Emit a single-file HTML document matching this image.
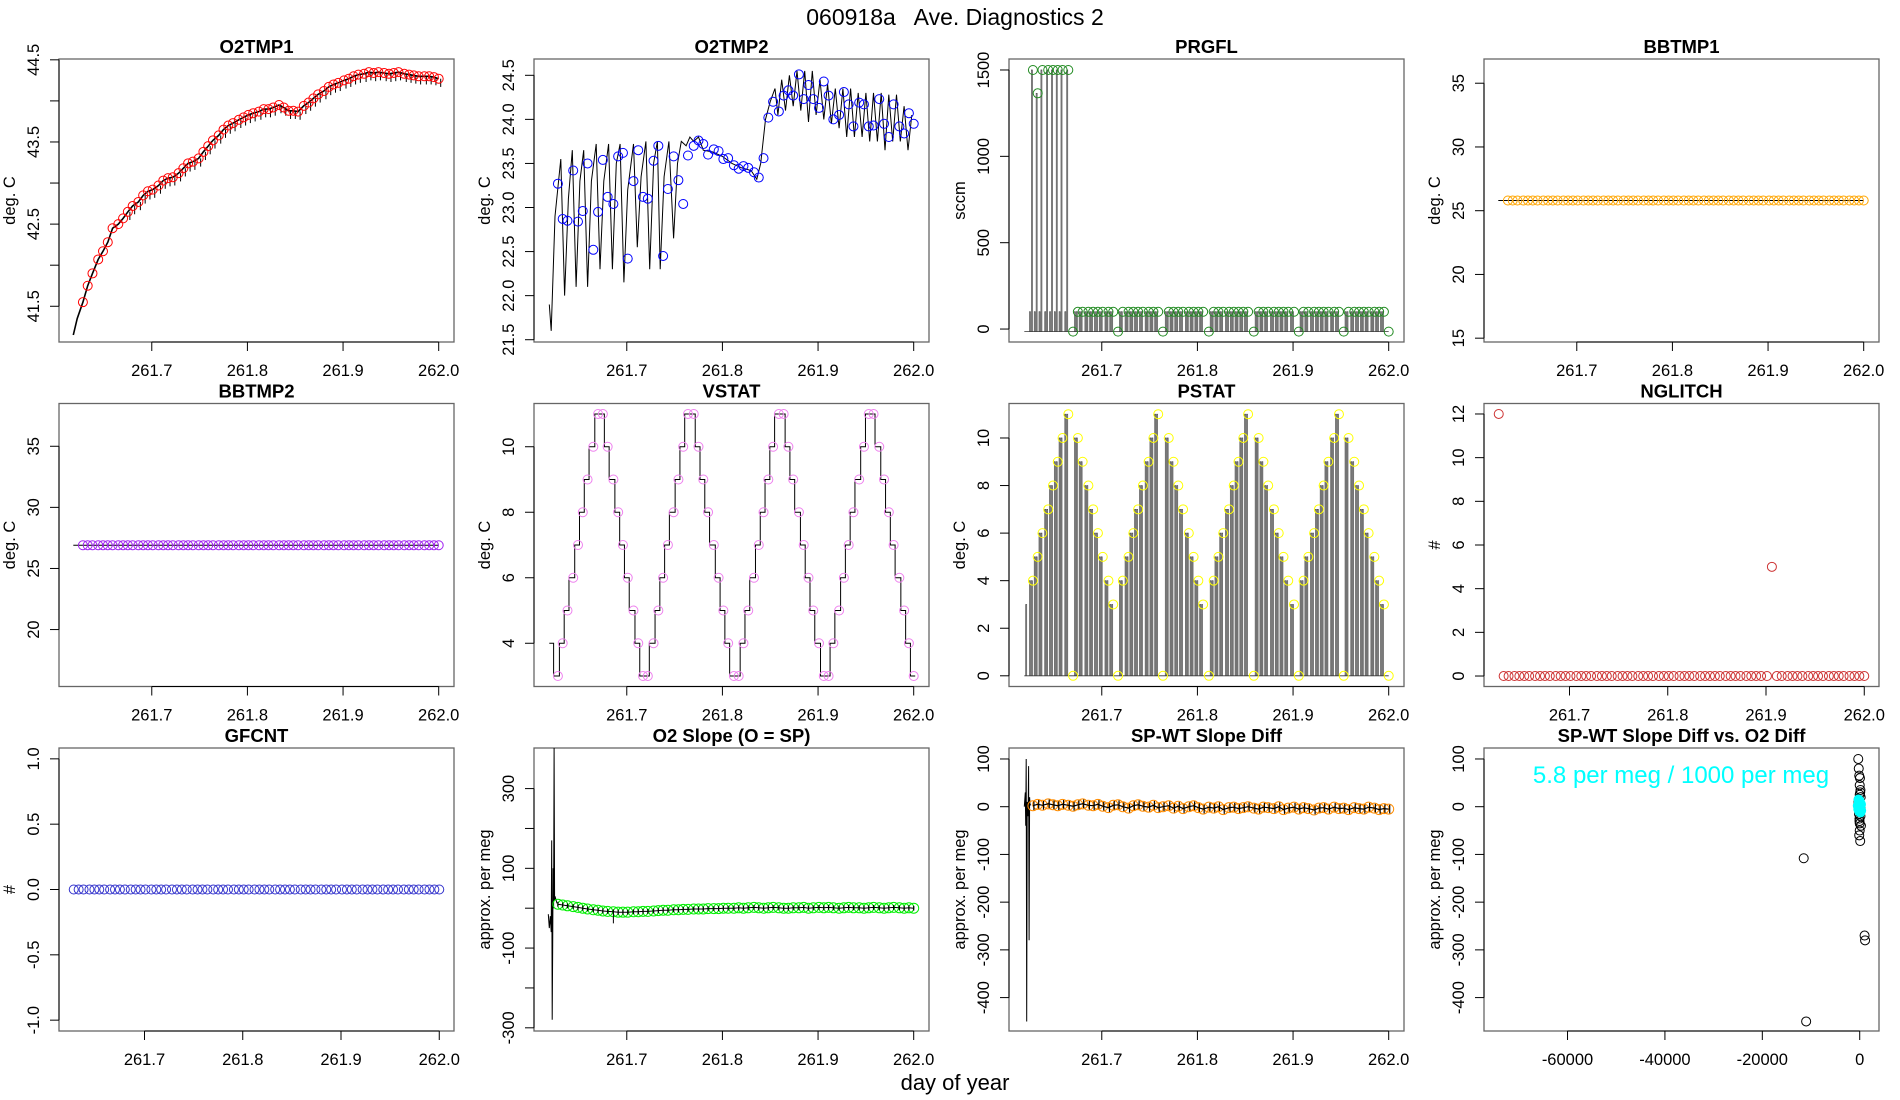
<!DOCTYPE html>
<html><head><meta charset="utf-8"><title>060918a Ave. Diagnostics 2</title>
<style>
html,body{margin:0;padding:0;background:#fff;}
svg{display:block;font-family:"Liberation Sans",sans-serif;}
</style></head>
<body>
<svg id="fig" width="1900" height="1100" viewBox="0 0 1900 1100" xmlns="http://www.w3.org/2000/svg">
<text x="955" y="25" font-size="23" text-anchor="middle" style="white-space:pre">060918a   Ave. Diagnostics 2</text>
<text x="955" y="1090" font-size="22" text-anchor="middle">day of year</text>
</svg>
<script>
const times=[261.628,261.633,261.638,261.644,261.649,261.654,261.659,261.665,261.670,261.675,261.680,261.686,261.691,261.696,261.701,261.707,261.712,261.717,261.722,261.728,261.733,261.738,261.743,261.749,261.754,261.759,261.764,261.770,261.775,261.780,261.785,261.791,261.796,261.801,261.806,261.812,261.817,261.822,261.827,261.833,261.838,261.843,261.848,261.853,261.859,261.864,261.869,261.874,261.880,261.885,261.890,261.895,261.901,261.906,261.911,261.916,261.922,261.927,261.932,261.937,261.943,261.948,261.953,261.958,261.964,261.969,261.974,261.979,261.985,261.990,261.995,262.000];
const timeTicks=[261.7,261.8,261.9,262.0];
const timeTickLabels=["261.7","261.8","261.9","262.0"];
const o2tmp1=[41.55,41.75,41.9,42.07,42.17,42.28,42.45,42.5,42.57,42.65,42.72,42.77,42.85,42.9,42.92,42.97,43.03,43.06,43.07,43.12,43.18,43.24,43.26,43.3,43.38,43.45,43.52,43.58,43.65,43.7,43.73,43.77,43.8,43.83,43.85,43.87,43.9,43.9,43.92,43.95,43.92,43.88,43.88,43.87,43.94,43.98,44.03,44.08,44.12,44.17,44.2,44.22,44.25,44.27,44.3,44.32,44.33,44.35,44.34,44.35,44.34,44.33,44.34,44.35,44.33,44.32,44.31,44.3,44.3,44.3,44.29,44.27];
const o2tmp1StartX=[261.618,261.622];
const o2tmp1StartY=[41.15,41.35];
const o2tmp2=[23.27,22.87,22.85,23.42,22.84,22.96,23.5,22.52,22.95,23.54,23.12,23.04,23.58,23.62,22.42,23.3,23.65,23.12,23.1,23.53,23.7,22.45,23.21,23.58,23.31,23.04,23.59,23.7,23.76,23.72,23.6,23.66,23.64,23.55,23.56,23.48,23.44,23.47,23.45,23.4,23.34,23.56,24.02,24.2,24.09,24.27,24.33,24.27,24.51,24.23,24.39,24.23,24.13,24.43,24.27,24.0,24.05,24.31,24.17,23.92,24.19,24.17,23.92,23.93,24.23,23.95,23.8,24.17,23.92,23.84,24.07,23.95];
const o2tmp2LineX=[261.619,261.621,261.625,261.631,261.635,261.639,261.643,261.647,261.651,261.655,261.659,261.663,261.668,261.672,261.676,261.681,261.685,261.689,261.693,261.697,261.701,261.707,261.711,261.715,261.720,261.724,261.728,261.732,261.735,261.739,261.744,261.749,261.753,261.757,261.762,261.766,261.770,261.775,261.78,261.79,261.80,261.81,261.82,261.83,261.836,261.84,261.845,261.85,261.855,261.858,261.862,261.866,261.870,261.874,261.878,261.882,261.886,261.890,261.894,261.898,261.902,261.906,261.910,261.914,261.918,261.922,261.926,261.930,261.934,261.938,261.942,261.946,261.950,261.954,261.958,261.962,261.966,261.970,261.974,261.978,261.982,261.986,261.990,261.994,261.998];
const o2tmp2LineY=[21.9,21.6,22.9,23.55,22.0,23.1,23.65,22.1,23.3,23.65,22.1,23.3,23.72,22.3,23.3,23.72,22.3,23.5,23.72,22.15,23.2,23.72,22.55,23.35,23.75,22.3,23.5,23.75,22.3,23.35,23.75,22.65,23.5,23.75,23.7,23.8,23.75,23.8,23.65,23.63,23.58,23.5,23.45,23.42,23.32,23.5,24.0,24.2,24.35,24.05,24.45,24.1,24.5,24.15,24.55,24.1,24.55,23.97,24.55,24.05,24.45,24.0,24.4,23.95,24.35,23.9,24.35,23.8,24.35,23.8,24.3,23.8,24.3,23.75,24.3,23.75,24.3,23.65,24.28,23.75,24.28,23.75,24.15,23.65,24.05];
const prgfl=[1500,1365,1500,1500,1500,1500,1500,1500,-15,100,100,100,100,100,100,100,100,-15,100,100,100,100,100,100,100,100,-15,100,100,100,100,100,100,100,100,-15,100,100,100,100,100,100,100,100,-15,100,100,100,100,100,100,100,100,-15,100,100,100,100,100,100,100,100,-15,100,100,100,100,100,100,100,100,-15];
const bbtmp1=Array.from(times,()=>25.8);
const bbtmp2=Array.from(times,()=>26.9);
const vstat=[3,4,5,6,7,8,9,10,11,11,10,9,8,7,6,5,4,3,3,4,5,6,7,8,9,10,11,11,10,9,8,7,6,5,4,3,3,4,5,6,7,8,9,10,11,11,10,9,8,7,6,5,4,3,3,4,5,6,7,8,9,10,11,11,10,9,8,7,6,5,4,3];
const pstat=[4,5,6,7,8,9,10,11,0,10,9,8,7,6,5,4,3,0,4,5,6,7,8,9,10,11,0,10,9,8,7,6,5,4,3,0,4,5,6,7,8,9,10,11,0,10,9,8,7,6,5,4,3,0,4,5,6,7,8,9,10,11,0,10,9,8,7,6,5,4,3,0];
const nglitch=[12,0,0,0,0,0,0,0,0,0,0,0,0,0,0,0,0,0,0,0,0,0,0,0,0,0,0,0,0,0,0,0,0,0,0,0,0,0,0,0,0,0,0,0,0,0,0,0,0,0,0,0,0,5,0,0,0,0,0,0,0,0,0,0,0,0,0,0,0,0,0,0];
const gfcnt=Array.from(times,()=>0);
const o2slope=[10,8,6,4,2,0,-2,-4,-5,-7,-8,-9,-10,-10,-10,-9,-9,-8,-8,-7,-6,-5,-5,-4,-4,-3,-3,-2,-2,-2,-1,-1,-1,0,0,0,1,0,1,2,1,0,1,2,1,0,0,1,1,2,0,1,2,1,2,1,0,1,2,1,1,0,1,2,1,0,1,2,1,0,1,0];
const o2slopeSpikeX=[261.618,261.619,261.620,261.621,261.6215,261.622,261.6225,261.623,261.6235,261.624,261.6245,261.625,261.627];
const o2slopeSpikeY=[-15,-50,-20,-60,170,-280,-90,100,0,410,20,30,12];
const spwt=[2,5,3,6,4,2,5,3,1,4,6,3,2,5,1,-2,3,4,0,-3,2,4,1,-1,3,-2,0,2,-3,1,-4,0,2,-2,-5,-1,-3,0,-6,-2,-1,-4,-2,0,-3,-5,-1,-2,-4,0,-6,-3,-1,-5,-2,-4,-7,-3,-2,-5,-1,-4,-3,-6,-2,-4,-5,-1,-3,-6,-4,-5];
const spwtSpikeX=[261.619,261.620,261.6205,261.621,261.6215,261.622,261.623,261.6235,261.624,261.6245,261.625,261.626];
const spwtSpikeY=[0,30,-40,100,-450,10,-20,85,-280,20,5,3];
const scatX=[-300,-200,-100,0,100,200,-250,-150,50,150,-50,250,0,-100,100,-200,200,-300,0,-150,150,-50,50,0,-11500,-11000,1000,1100];
const scatY=[100,80,65,45,30,20,10,0,-10,-20,-30,-40,-50,-60,-72,15,-5,5,25,-15,35,-25,60,-35,-108,-450,-270,-280];
const cyanX=[-400,-300,-200,-100,0,100,200,300,-250,-50,150,250,-150,50];
const cyanY=[2,-5,8,-10,12,-3,6,-8,15,0,-12,4,10,-6];
const o2diffTicks=[-60000,-40000,-20000,0];
const o2diffTickLabels=["-60000","-40000","-20000","0"];

const NS="http://www.w3.org/2000/svg";
const fig=document.getElementById('fig');
function mk(tag,attrs,parent){const e=document.createElementNS(NS,tag);for(const k in attrs)e.setAttribute(k,attrs[k]);(parent||fig).appendChild(e);return e;}
const colL=[59,534,1009,1484], rowT=[59,403.5,748], PW=395, PH=283;

function panel(o){
  const g=mk('g',{});
  
  
  const L=colL[o.c],T=rowT[o.r],R=L+PW,B=T+PH;
  const sx=v=>L+(v-o.xd[0])/(o.xd[1]-o.xd[0])*PW;
  const sy=v=>B-(v-o.yd[0])/(o.yd[1]-o.yd[0])*PH;
  const box=mk('rect',{x:L,y:T,width:PW,height:PH,fill:'none',stroke:'#666','stroke-width':1.3},g);
  
  
  const t=mk('text',{x:L+PW/2,y:T-6,'font-size':18.5,'font-weight':'bold','text-anchor':'middle'},g);
  t.textContent=o.title;
  
  
  const xa=mk('g',{},g);
  
  
  mk('line',{x1:sx(o.xt[0]),x2:sx(o.xt[o.xt.length-1]),y1:B,y2:B,stroke:'#000'},xa);
  o.xt.forEach((v,i)=>{mk('line',{x1:sx(v),x2:sx(v),y1:B,y2:B+9,stroke:'#000'},xa);
    const tl=mk('text',{x:sx(v),y:B+34,'font-size':16.5,'text-anchor':'middle'},xa);tl.textContent=o.xl[i];});
  const ya=mk('g',{},g);
  
  
  mk('line',{x1:L,x2:L,y1:sy(o.yt[0]),y2:sy(o.yt[o.yt.length-1]),stroke:'#000'},ya);
  o.yt.forEach(v=>{mk('line',{x1:L-9,x2:L,y1:sy(v),y2:sy(v),stroke:'#000'},ya);});
  o.yl.forEach(v=>{const x=L-20,y=sy(v);const tl=mk('text',{x:x,y:y,'font-size':16.5,'text-anchor':'middle',transform:`rotate(-90 ${x} ${y})`},ya);tl.textContent=o.ylf?o.ylf(v):String(v);});
  const yx=L-44,yy=(T+B)/2;
  const yt=mk('text',{x:yx,y:yy,'font-size':16.5,'text-anchor':'middle',transform:`rotate(-90 ${yx} ${yy})`},g);
  yt.textContent=o.ylab;
  
  
  const cp='clip'+o.name;
  const cl=mk('clipPath',{id:cp},g);mk('rect',{x:L,y:T,width:PW,height:PH},cl);
  const d=mk('g',{'clip-path':`url(#${cp})`},g);
  
  
  return {g:d,sx,sy,L,T,R,B};
}
function poly(p,xs,ys,stroke,w){let s='';xs.forEach((x,i)=>{s+=(i?'L':'M')+p.sx(x).toFixed(1)+' '+p.sy(ys[i]).toFixed(1);});const e=mk('path',{d:s,fill:'none',stroke:stroke,'stroke-width':w||1},p.g);return e;}
function circles(p,xs,ys,col,name,r,fill){xs.forEach((x,i)=>{const c=mk('circle',{cx:p.sx(x),cy:p.sy(ys[i]),r:r||4.5,fill:fill||'none',stroke:col,'stroke-width':1},p.g);
  
  });}
const XD=[261.603,262.016], XD2=[261.613,262.015];
const dec1=v=>v.toFixed(1);

let p=panel({name:'o2tmp1',title:'O2TMP1',c:0,r:0,xd:XD,yd:[41.065,44.51],xt:timeTicks,xl:timeTickLabels,yt:[41.5,42,42.5,43,43.5,44,44.5],yl:[41.5,42.5,43.5,44.5],ylf:dec1,ylab:'deg. C'});
poly(p,o2tmp1StartX.concat(times),o2tmp1StartY.concat(o2tmp1),'#000',1.6);
times.forEach((x,i)=>{if(i>8)mk('line',{x1:p.sx(x)+2,x2:p.sx(x)+2,y1:p.sy(o2tmp1[i]),y2:p.sy(o2tmp1[i]-0.1),stroke:'#000','stroke-width':1},p.g);});
circles(p,times,o2tmp1,'#ff0000','o2tmp1-point');

p=panel({name:'o2tmp2',title:'O2TMP2',c:1,r:0,xd:XD,yd:[21.474,24.685],xt:timeTicks,xl:timeTickLabels,yt:[21.5,22,22.5,23,23.5,24,24.5],yl:[21.5,22,22.5,23,23.5,24,24.5],ylf:dec1,ylab:'deg. C'});
poly(p,o2tmp2LineX,o2tmp2LineY,'#000',1);
circles(p,times,o2tmp2,'#0000ff','o2tmp2-point');

p=panel({name:'prgfl',title:'PRGFL',c:2,r:0,xd:XD,yd:[-75,1563.6],xt:timeTicks,xl:timeTickLabels,yt:[0,500,1000,1500],yl:[0,500,1000,1500],ylab:'sccm'});
mk('line',{x1:p.sx(261.619),x2:p.sx(262.0),y1:p.sy(-15),y2:p.sy(-15),stroke:'#333','stroke-width':0.8},p.g);
times.forEach((x,i)=>{const v=prgfl[i];if(v<=0)return;
  const mid=v>=1000?100:v;
  [[x-0.0036,mid],[x-0.0016,v]].forEach(q=>{const a=p.sx(q[0]),b=p.sx(q[0]+0.0010);
    mk('path',{d:`M${a} ${p.sy(-15)}V${p.sy(q[1])}H${b}V${p.sy(-15)}`,fill:'none',stroke:'#444','stroke-width':0.7},p.g);});});
circles(p,times,prgfl,'#228b22','prgfl-point');

p=panel({name:'bbtmp1',title:'BBTMP1',c:3,r:0,xd:XD,yd:[14.7,36.9],xt:timeTicks,xl:timeTickLabels,yt:[15,20,25,30,35],yl:[15,20,25,30,35],ylab:'deg. C'});
poly(p,[261.618].concat(times),[bbtmp1[0]].concat(bbtmp1),'#000',1);
circles(p,times,bbtmp1,'#ffa500','bbtmp1-point');

p=panel({name:'bbtmp2',title:'BBTMP2',c:0,r:1,xd:XD,yd:[15.34,38.5],xt:timeTicks,xl:timeTickLabels,yt:[20,25,30,35],yl:[20,25,30,35],ylab:'deg. C'});
poly(p,[261.618].concat(times),[bbtmp2[0]].concat(bbtmp2),'#000',1);
circles(p,times,bbtmp2,'#a020f0','bbtmp2-point');

p=panel({name:'vstat',title:'VSTAT',c:1,r:1,xd:XD,yd:[2.68,11.32],xt:timeTicks,xl:timeTickLabels,yt:[4,6,8,10],yl:[4,6,8,10],ylab:'deg. C'});
(function(){let s=`M${p.sx(261.619)} ${p.sy(4)}H${p.sx(261.6235)}V${p.sy(vstat[0])}`;
  times.forEach((x,i)=>{s+=`H${p.sx(x)+1.5}`;if(i<times.length-1)s+=`V${p.sy(vstat[i+1])}`;});
  mk('path',{d:s,fill:'none',stroke:'#000','stroke-width':1},p.g);})();
circles(p,times,vstat,'#ee82ee','vstat-point');

p=panel({name:'pstat',title:'PSTAT',c:2,r:1,xd:XD,yd:[-0.45,11.45],xt:timeTicks,xl:timeTickLabels,yt:[0,2,4,6,8,10],yl:[0,2,4,6,8,10],ylab:'deg. C'});
mk('line',{x1:p.sx(261.619),x2:p.sx(262.0),y1:p.sy(0),y2:p.sy(0),stroke:'#333','stroke-width':0.8},p.g);
mk('path',{d:`M${p.sx(261.6205)} ${p.sy(0)}V${p.sy(3)}H${p.sx(261.6215)}V${p.sy(0)}`,fill:'none',stroke:'#444','stroke-width':0.7},p.g);
times.forEach((x,i)=>{const v=pstat[i];if(v<=0)return;
  [x-0.0036,x-0.0016].forEach(q=>{const a=p.sx(q),b=p.sx(q+0.0010);
    mk('path',{d:`M${a} ${p.sy(0)}V${p.sy(v)}H${b}V${p.sy(0)}`,fill:'none',stroke:'#444','stroke-width':0.7},p.g);});});
circles(p,times,pstat,'#ffff00','pstat-point');

p=panel({name:'nglitch',title:'NGLITCH',c:3,r:1,xd:XD2,yd:[-0.48,12.48],xt:timeTicks,xl:timeTickLabels,yt:[0,2,4,6,8,10,12],yl:[0,2,4,6,8,10,12],ylab:'#'});
circles(p,times,nglitch,'#cd3333','nglitch-point');

p=panel({name:'gfcnt',title:'GFCNT',c:0,r:2,xd:XD2,yd:[-1.083,1.083],xt:timeTicks,xl:timeTickLabels,yt:[-1,-0.5,0,0.5,1],yl:[-1,-0.5,0,0.5,1],ylf:dec1,ylab:'#'});
circles(p,times,gfcnt,'#3333cc','gfcnt-point');

p=panel({name:'o2-slope',title:'O2 Slope (O = SP)',c:1,r:2,xd:XD,yd:[-308,401.8],xt:timeTicks,xl:timeTickLabels,yt:[-300,-200,-100,0,100,200,300],yl:[-300,-100,100,300],ylab:'approx. per meg'});
poly(p,o2slopeSpikeX,o2slopeSpikeY,'#000',1);
circles(p,times,o2slope,'#00ee00','o2-slope-point',5);
poly(p,times,o2slope,'#000',1);
times.forEach((x,i)=>{mk('line',{x1:p.sx(x),x2:p.sx(x),y1:p.sy(o2slope[i]+6),y2:p.sy(o2slope[i]-6),stroke:'#000','stroke-width':1.2},p.g);});
mk('line',{x1:p.sx(261.686),x2:p.sx(261.686),y1:p.sy(-5),y2:p.sy(-38),stroke:'#000'},p.g);

p=panel({name:'spwt-slope-diff',title:'SP-WT Slope Diff',c:2,r:2,xd:XD,yd:[-470,123],xt:timeTicks,xl:timeTickLabels,yt:[-400,-300,-200,-100,0,100],yl:[-400,-300,-200,-100,0,100],ylab:'approx. per meg'});
poly(p,spwtSpikeX,spwtSpikeY,'#000',1);
circles(p,times,spwt,'#ff8c00','spwt-point',5);
poly(p,times,spwt,'#000',1.2);
times.forEach((x,i)=>{mk('line',{x1:p.sx(x)+1,x2:p.sx(x)+1,y1:p.sy(spwt[i]+9),y2:p.sy(spwt[i]-9),stroke:'#000','stroke-width':1.2},p.g);});

p=panel({name:'spwt-vs-o2-diff',title:'SP-WT Slope Diff vs. O2 Diff',c:3,r:2,xd:[-77150,3960],yd:[-470,123],xt:o2diffTicks,xl:o2diffTickLabels,yt:[-400,-300,-200,-100,0,100],yl:[-400,-300,-200,-100,0,100],ylab:'approx. per meg'});
circles(p,scatX,scatY,'#000','scatter-point',4.5);
circles(p,cyanX,cyanY,'#00ffff','scatter-cyan-point',4.5,'#00ffff');
const ann=mk('text',{x:1681,y:783,'font-size':24,fill:'#00ffff','text-anchor':'middle'},p.g.parentNode);
ann.textContent='5.8 per meg / 1000 per meg';


</script>
</body></html>
